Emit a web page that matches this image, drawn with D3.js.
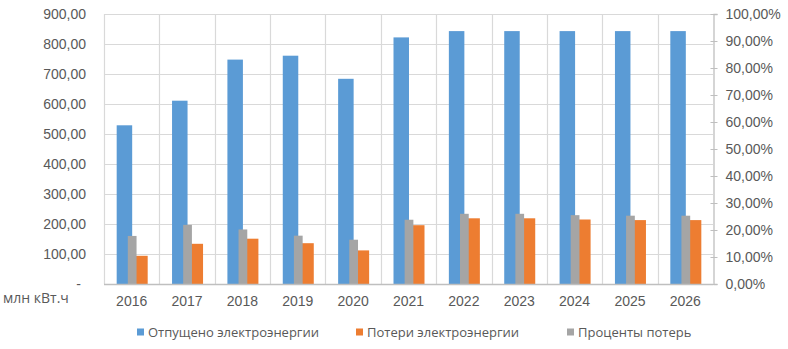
<!DOCTYPE html>
<html>
<head>
<meta charset="utf-8">
<script src="https://cdn.jsdelivr.net/npm/d3@7/dist/d3.min.js"></script>
<style>
  html, body { margin: 0; padding: 0; background: #fff; }
  svg { display: block; font-family: "Liberation Sans", Arial, sans-serif; }
</style>
</head>
<body>
<svg id="chart" width="788" height="349"></svg>
<script>
const years = ["2016","2017","2018","2019","2020","2021","2022","2023","2024","2025","2026"];
const supplied = [529, 611, 748, 761, 684, 822, 843, 843, 843, 843, 843];
const losses = [94, 134, 151, 136, 112, 196, 219, 219, 215, 213, 213];
const lossPct = [17.8, 21.9, 20.2, 17.9, 16.4, 23.8, 26.0, 26.0, 25.5, 25.3, 25.3];
const leftTicks = [0, 100, 200, 300, 400, 500, 600, 700, 800, 900];
const rightTicks = [0, 10, 20, 30, 40, 50, 60, 70, 80, 90, 100];
const seriesNames = ["Отпущено электроэнергии", "Потери электроэнергии", "Проценты потерь"];
const unitLabel = "млн кВт.ч";

const colors = { supplied: "#5b9bd5", losses: "#ed7d31", pct: "#a5a5a5" };
const textColor = "#595959";
const gridColor = "#d9d9d9";
const axisColor = "#bfbfbf";
const numFont = "\"Liberation Sans\", Arial, sans-serif";
const labelFont = "\"Open Sans\", \"Noto Sans\", sans-serif";

const svg = d3.select("#chart");
const L = 104, R = 713, T = 14, B = 284;

const x = d3.scaleBand().domain(years).range([L, R]).padding(0);
const yL = d3.scaleLinear().domain([0, 900]).range([B, T]);
const yR = d3.scaleLinear().domain([0, 100]).range([B, T]);
const bw = x.bandwidth();
const barW = bw * 0.28;
const grayW = bw * 0.158;
const xs = d3.scaleBand().domain(["supplied", "losses"]).range([bw / 2 - barW + 0.5, bw / 2 + barW + 0.5]).padding(0);

// horizontal gridlines
svg.append("g").selectAll("line").data(leftTicks.filter(d => d > 0)).join("line")
  .attr("x1", L).attr("x2", R)
  .attr("y1", d => Math.round(yL(d)) + 0.5).attr("y2", d => Math.round(yL(d)) + 0.5)
  .attr("stroke", gridColor).attr("stroke-width", 1.2);

// vertical gridlines at band boundaries
svg.append("g").selectAll("line").data(years).join("line")
  .attr("x1", d => Math.round(x(d)) + 0.5).attr("x2", d => Math.round(x(d)) + 0.5)
  .attr("y1", T).attr("y2", B)
  .attr("stroke", gridColor).attr("stroke-width", 1.2);

// bars: supplied & losses
const g = svg.append("g");
years.forEach((yr, i) => {
  g.append("rect")
    .attr("x", x(yr) + xs("supplied")).attr("width", xs.bandwidth())
    .attr("y", yL(supplied[i])).attr("height", B - yL(supplied[i]))
    .attr("fill", colors.supplied);
  g.append("rect")
    .attr("x", x(yr) + xs("losses")).attr("width", xs.bandwidth())
    .attr("y", yL(losses[i])).attr("height", B - yL(losses[i]))
    .attr("fill", colors.losses);
});
// secondary: percent (drawn on top)
years.forEach((yr, i) => {
  g.append("rect")
    .attr("x", x(yr) + bw / 2 - grayW / 2 + 0.5).attr("width", grayW)
    .attr("y", yR(lossPct[i])).attr("height", B - yR(lossPct[i]))
    .attr("fill", colors.pct);
});

// bottom axis line
svg.append("line").attr("x1", L).attr("x2", R).attr("y1", B + 0.5).attr("y2", B + 0.5)
  .attr("stroke", axisColor).attr("stroke-width", 1.3);

// right axis
const rAxis = svg.append("g").attr("transform", `translate(${R + 0.5},0)`)
  .call(d3.axisRight(yR).tickValues(rightTicks).tickSize(4).tickPadding(8)
    .tickFormat(d => d.toFixed(2).replace(".", ",") + "%"));
rAxis.select(".domain").attr("stroke", axisColor).attr("stroke-width", 1.3);
rAxis.selectAll(".tick line").attr("stroke", axisColor).attr("x1", -3).attr("x2", 4);
rAxis.selectAll("text").attr("fill", textColor).style("font-size", "14px")
  .style("font-family", numFont);

// left axis
const lAxis = svg.append("g").attr("transform", `translate(${L},0)`)
  .call(d3.axisLeft(yL).tickValues(leftTicks).tickSize(0).tickPadding(18)
    .tickFormat(d => d === 0 ? "-" : d.toFixed(2).replace(".", ",")));
lAxis.select(".domain").remove();
lAxis.selectAll("text").attr("fill", textColor).style("font-size", "14px")
  .style("font-family", numFont);
lAxis.selectAll(".tick").filter(d => d === 0).select("text").attr("x", -23);

// x axis labels
const xAxis = svg.append("g").attr("transform", `translate(0,${B})`)
  .call(d3.axisBottom(x).tickSize(0).tickPadding(12));
xAxis.select(".domain").remove();
xAxis.selectAll("text").attr("fill", textColor).style("font-size", "14px")
  .style("font-family", numFont);

// unit label
svg.append("text").attr("x", 3).attr("y", 298).attr("dy", "0.35em")
  .attr("fill", textColor).style("font-size", "14px").style("font-family", labelFont)
  .text(unitLabel);

// legend
const legend = svg.append("g");
const legColors = [colors.supplied, colors.losses, colors.pct];
const legX = [137, 356, 567];
seriesNames.forEach((name, i) => {
  legend.append("rect").attr("x", legX[i]).attr("y", 328.5).attr("width", 7).attr("height", 7)
    .attr("fill", legColors[i]);
  legend.append("text").attr("x", legX[i] + 11).attr("y", 332).attr("dy", "0.35em")
    .attr("fill", textColor).style("font-size", "13px").style("font-family", labelFont)
    .text(name);
});
</script>
</body>
</html>
